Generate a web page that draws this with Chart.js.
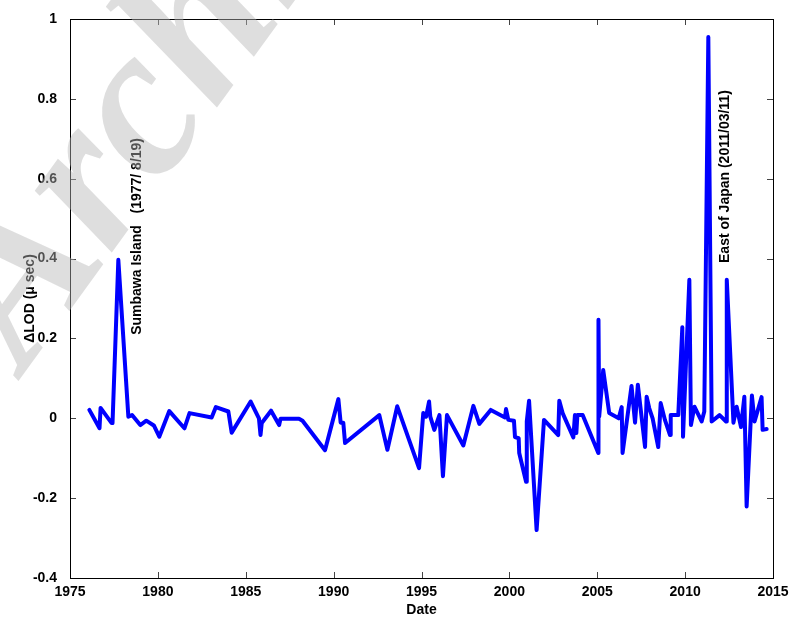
<!DOCTYPE html>
<html>
<head>
  <title>Delta LOD</title>
  <script src="https://cdn.jsdelivr.net/npm/chart.js@4.4.0/dist/chart.umd.min.js"></script>
  <style>
    body { margin: 0; background: #fff; }
  </style>
</head>
<body>
  <canvas id="lodChart" width="791" height="619"></canvas>

  <script>
    // decimal year of each measurement
    var dates = [
      1976.10, 1976.68, 1976.74, 1977.37, 1977.42, 1977.75, 1978.32, 1978.53, 1979.00, 1979.34,
      1979.77, 1980.08, 1980.65, 1981.51, 1981.80, 1983.06, 1983.30, 1984.01, 1984.20, 1985.28,
      1985.75, 1985.84, 1985.91, 1986.44, 1986.90, 1986.98, 1988.03, 1988.23, 1989.51, 1990.27,
      1990.40, 1990.55, 1990.65, 1992.60, 1993.06, 1993.62, 1994.86, 1995.10, 1995.26, 1995.43,
      1995.50, 1995.73, 1996.02, 1996.22, 1996.45, 1997.38, 1997.95, 1998.29, 1998.94, 1999.75,
      1999.81, 1999.94, 2000.26, 2000.32, 2000.53, 2000.56, 2000.95, 2000.99, 2001.12, 2001.55,
      2001.97, 2002.78, 2002.84, 2003.03, 2003.64, 2003.73, 2003.81, 2003.87, 2004.17, 2005.06,
      2005.07, 2005.11, 2005.34, 2005.68, 2006.22, 2006.39, 2006.44, 2006.95, 2007.15, 2007.31,
      2007.72, 2007.81, 2007.96, 2008.15, 2008.47, 2008.61, 2008.85, 2009.14, 2009.18, 2009.61,
      2009.84, 2009.88, 2010.24, 2010.33, 2010.53, 2010.94, 2011.09, 2011.32, 2011.51, 2011.96,
      2012.33, 2012.37, 2012.75, 2012.93, 2013.18, 2013.37, 2013.50, 2013.80, 2013.95, 2014.35,
      2014.41, 2014.64
    ];

    // change in length of day, microseconds
    var dLod = [
      0.021, -0.025, 0.026, -0.012, -0.012, 0.397, 0.004, 0.008, -0.017, -0.006,
      -0.018, -0.046, 0.018, -0.025, 0.013, 0.002, 0.028, 0.017, -0.036, 0.042,
      0.000, -0.042, -0.012, 0.019, -0.017, -0.001, -0.001, -0.006, -0.080, 0.048,
      -0.011, -0.011, -0.062, 0.008, -0.079, 0.030, -0.125, 0.013, 0.004, 0.042,
      0.004, -0.029, 0.008, -0.145, 0.008, -0.068, 0.031, -0.014, 0.021, 0.002,
      0.023, -0.004, -0.006, -0.047, -0.050, -0.087, -0.159, -0.008, 0.044, -0.280,
      -0.004, -0.042, 0.044, 0.013, -0.048, 0.008, -0.037, 0.008, 0.008, -0.087,
      0.247, 0.004, 0.121, 0.013, 0.000, 0.028, -0.087, 0.081, -0.011, 0.084,
      -0.072, 0.054, 0.025, 0.000, -0.072, 0.038, -0.004, -0.042, 0.008, 0.008,
      0.228, -0.046, 0.347, -0.017, 0.029, -0.008, 0.017, 0.955, -0.008, 0.008,
      -0.008, 0.347, -0.011, 0.029, -0.022, 0.054, -0.221, 0.057, -0.008, 0.053,
      -0.029, -0.027
    ];

    var xTicks = [1975, 1980, 1985, 1990, 1995, 2000, 2005, 2010, 2015];
    var yTicks = [-0.4, -0.2, 0, 0.2, 0.4, 0.6, 0.8, 1];

    var quakeNames = ['Sumbawa Island   (1977/ 8/19)', 'East of Japan (2011/03/11)'];

    var points = dates.map(function(d, i) { return { x: d, y: dLod[i] }; });

    var boldFont = { family: '"Liberation Sans", Arial, sans-serif', size: 14, weight: 'bold' };
    Chart.defaults.font.family = boldFont.family;
    Chart.defaults.color = '#000';

    // MATLAB style box with inward ticks, event labels and the faded stamp
    var boxPlugin = {
      id: 'box',
      afterDraw: function(chart) {
        var c = chart.ctx, a = chart.chartArea;
        var xs = chart.scales.x, ys = chart.scales.y;
        c.save();

        c.strokeStyle = '#444';
        c.lineWidth = 1;
        c.beginPath();
        xTicks.forEach(function(t) {
          var px = Math.round(xs.getPixelForValue(t)) + 0.5;
          c.moveTo(px, a.bottom); c.lineTo(px, a.bottom - 6);
          c.moveTo(px, a.top); c.lineTo(px, a.top + 6);
        });
        yTicks.forEach(function(t) {
          var py = Math.round(ys.getPixelForValue(t)) + 0.5;
          c.moveTo(a.left, py); c.lineTo(a.left + 6, py);
          c.moveTo(a.right, py); c.lineTo(a.right - 6, py);
        });
        c.stroke();

        c.strokeStyle = '#000';
        c.strokeRect(Math.round(a.left) + 0.5, Math.round(a.top) + 0.5,
                     Math.round(a.right - a.left), Math.round(a.bottom - a.top));

        // event labels, written bottom to top
        var anchors = [[1978.84, 0.209], [2012.27, 0.389]];
        c.fillStyle = '#000';
        c.font = 'bold 14px "Liberation Sans", Arial, sans-serif';
        c.textAlign = 'left';
        c.textBaseline = 'middle';
        quakeNames.forEach(function(name, i) {
          c.save();
          c.translate(xs.getPixelForValue(anchors[i][0]), ys.getPixelForValue(anchors[i][1]));
          c.rotate(-Math.PI / 2);
          c.fillText(name, 0, 0);
          c.restore();
        });

        // faded stamp across the upper left
        c.save();
        c.fillStyle = 'rgba(182,182,182,0.45)';
        c.font = 'italic bold 215px "Liberation Serif", "Times New Roman", serif';
        c.textAlign = 'left';
        c.textBaseline = 'alphabetic';
        c.translate(25, 372);
        c.rotate(-54 * Math.PI / 180);
        c.fillText('Archive', 0, 0);
        c.restore();

        c.restore();
      }
    };

    var ctx = document.getElementById('lodChart').getContext('2d');

    var lodChart = new Chart(ctx, {
      type: 'line',
      data: {
        datasets: [{
          data: points,
          borderColor: '#0000ff',
          borderWidth: 4,
          borderJoinStyle: 'round',
          borderCapStyle: 'round',
          pointRadius: 0,
          tension: 0,
          fill: false
        }]
      },
      options: {
        responsive: false,
        animation: false,
        layout: { padding: { top: 19, right: 18, left: 0, bottom: 0 } },
        plugins: {
          legend: { display: false },
          tooltip: { enabled: false }
        },
        scales: {
          x: {
            type: 'linear',
            min: 1975,
            max: 2015,
            grid: { display: false },
            border: { display: false },
            afterBuildTicks: function(s) { s.ticks = xTicks.map(function(v) { return { value: v }; }); },
            afterFit: function(s) { s.height = 41; },
            ticks: {
              padding: -2,
              maxRotation: 0,
              font: boldFont,
              color: '#000',
              callback: function(v) { return String(v); }
            },
            title: {
              display: true,
              text: 'Date',
              font: boldFont,
              color: '#000',
              padding: { top: 0, bottom: 0 }
            }
          },
          y: {
            min: -0.4,
            max: 1,
            grid: { display: false },
            border: { display: false },
            afterBuildTicks: function(s) { s.ticks = yTicks.map(function(v) { return { value: v }; }); },
            afterFit: function(s) { s.width = 70; },
            ticks: {
              padding: 5,
              font: boldFont,
              color: '#000',
              callback: function(v) { return String(Number(v.toFixed(1))); }
            },
            title: {
              display: true,
              text: 'ΔLOD (μ sec)',
              font: boldFont,
              color: '#000',
              padding: { top: 22, bottom: 0 }
            }
          }
        }
      },
      plugins: [boxPlugin]
    });
  </script>
</body>
</html>
